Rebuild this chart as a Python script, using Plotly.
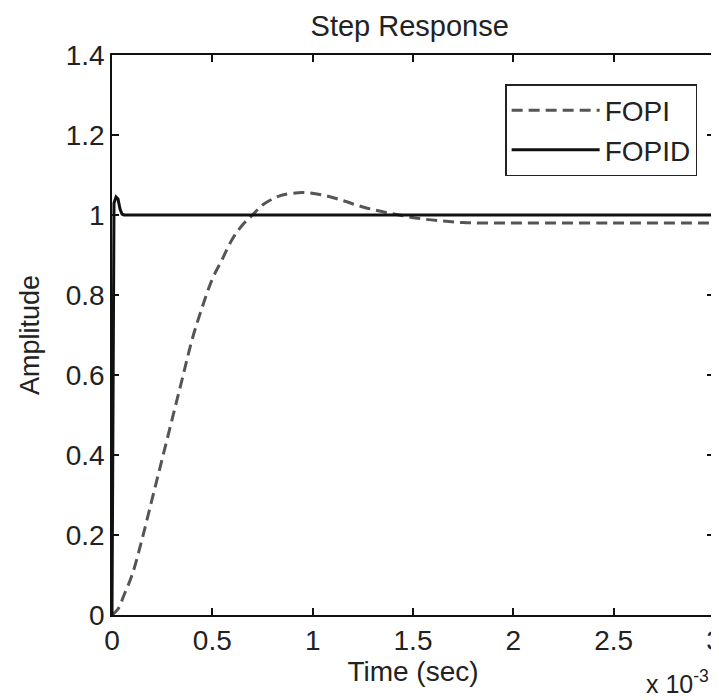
import plotly.graph_objects as go

# time in units of 1e-3 s (the axis carries the "x 10^-3" multiplier)
fopi_t = [0, 0.03, 0.06, 0.1, 0.15, 0.2, 0.25, 0.3, 0.35, 0.4, 0.45, 0.5, 0.55,
          0.6, 0.65, 0.7, 0.75, 0.8, 0.85, 0.95, 1.05, 1.15, 1.25, 1.35, 1.45,
          1.55, 1.65, 1.75, 1.85, 2.0, 2.5, 3.0]
fopi_y = [0, 0.015, 0.05, 0.1, 0.19, 0.29, 0.39, 0.49, 0.59, 0.69, 0.77, 0.84, 0.89,
          0.94, 0.975, 1.0, 1.025, 1.04, 1.05, 1.056, 1.05, 1.036, 1.02, 1.008, 0.998,
          0.99, 0.985, 0.981, 0.98, 0.98, 0.98, 0.98]

fopid_t = [0, 0.005, 0.01, 0.02, 0.03, 0.04, 0.05, 0.06, 1.0, 2.0, 3.0]
fopid_y = [0, 0.8, 1.03, 1.045, 1.04, 1.015, 1.002, 1.0, 1.0, 1.0, 1.0]

x_ticks = [0, 0.5, 1, 1.5, 2, 2.5, 3]
x_labels = ['0', '0.5', '1', '1.5', '2', '2.5', '3']
y_ticks = [0, 0.2, 0.4, 0.6, 0.8, 1, 1.2, 1.4]
y_labels = ['0', '0.2', '0.4', '0.6', '0.8', '1', '1.2', '1.4']

font = 'Liberation Sans, Arial, sans-serif'
ink = '#222222'

fig = go.Figure()
fig.add_trace(go.Scatter(x=fopi_t, y=fopi_y, mode='lines', name='FOPI',
                         line=dict(color='#555555', width=3, dash='11px,6px', shape='spline')))
fig.add_trace(go.Scatter(x=fopid_t, y=fopid_y, mode='lines', name='FOPID',
                         line=dict(color='#111111', width=3)))

axis_common = dict(showline=True, linecolor='#111111', linewidth=1.5, mirror='allticks',
                   ticks='inside', ticklen=7, tickwidth=1.5, tickcolor='#111111',
                   showgrid=False, zeroline=False, automargin=False,
                   ticklabeloverflow='allow',
                   tickfont=dict(family=font, size=28, color=ink))

# the page body keeps its default 8px margin, so the figure is 8px smaller
fig.update_layout(
    width=711, height=692,
    margin=dict(l=104, r=5, t=47, b=85),
    paper_bgcolor='white', plot_bgcolor='white',
    title=dict(text='Step Response', x=0.565, xanchor='center', y=0.974, yanchor='middle',
               font=dict(family=font, size=29, color=ink)),
    xaxis=dict(range=[0, 3], tickvals=x_ticks, ticktext=x_labels,
               title=dict(text='Time (sec)', standoff=0,
                          font=dict(family=font, size=28, color=ink)),
               **axis_common),
    yaxis=dict(range=[0, 1.4], tickvals=y_ticks, ticktext=y_labels,
               title=dict(text='Amplitude', standoff=18,
                          font=dict(family=font, size=27, color=ink)),
               **axis_common),
    legend=dict(x=0.972, xanchor='right', y=0.948, yanchor='top',
                bgcolor='white', bordercolor=ink, borderwidth=1.5,
                font=dict(family=font, size=28, color=ink),
                itemwidth=88, tracegroupgap=0),
    showlegend=True,
)

fig.add_annotation(text='x 10<sup>-3</sup>', xref='paper', yref='paper',
                   x=0.995, y=-0.152, xanchor='right', yanchor='bottom', showarrow=False,
                   font=dict(family=font, size=25, color=ink))

fig.write_html("out.html")
